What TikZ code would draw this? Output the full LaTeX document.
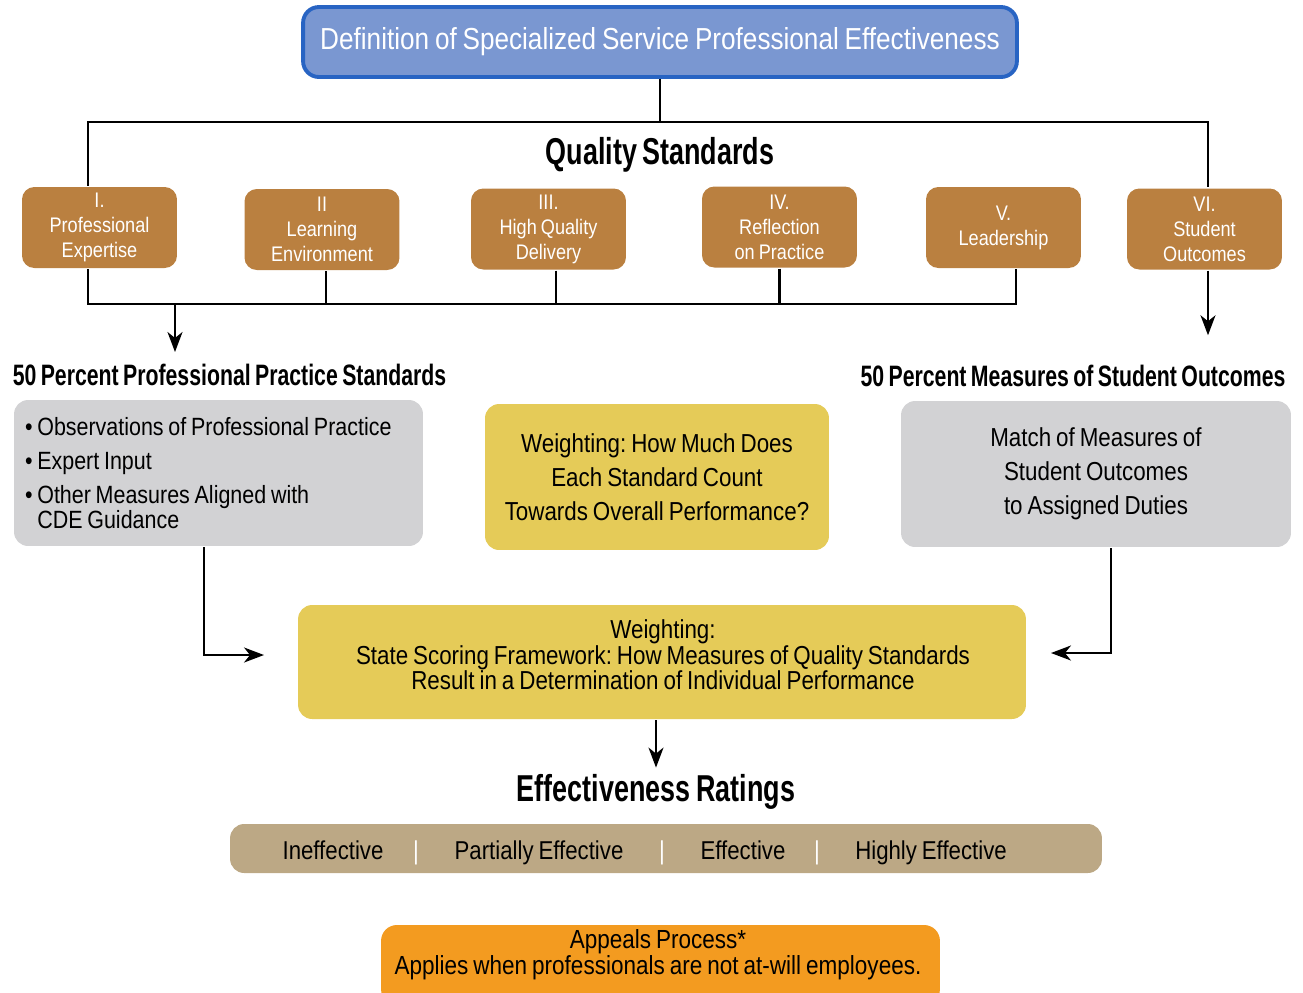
\documentclass[tikz,border=0pt]{standalone}
\usepackage{fontspec}
\setmainfont[FakeStretch=0.86,WordSpace=0.8]{Liberation Sans}
\newfontfamily\headfont[FakeStretch=0.72,WordSpace=0.75]{Liberation Sans}
\usetikzlibrary{arrows.meta}

\definecolor{titlefill}{RGB}{122,151,209}
\definecolor{titleline}{RGB}{40,100,195}
\definecolor{stdorange}{RGB}{186,128,64}
\definecolor{boxgray}{RGB}{210,210,212}
\definecolor{boxyellow}{RGB}{229,203,88}
\definecolor{bartan}{RGB}{188,168,133}
\definecolor{appealorange}{RGB}{243,155,32}

\begin{document}
\frenchspacing
\begin{tikzpicture}[x=0.02cm,y=-0.02cm,line width=1.2pt,
    arr/.style={-{Stealth[length=0.4cm,width=0.3cm,inset=0.12cm]},line width=1.2pt},
    stdbox/.style={fill=stdorange,rounded corners=7pt,text=white,align=flush center,minimum width=3.1cm,minimum height=1.62cm,font=\fontsize{12}{14.2}\selectfont},
    head/.style={font=\headfont\bfseries\fontsize{16.8}{18}\selectfont},
    info/.style={rounded corners=8pt,minimum height=2.92cm,font=\fontsize{14.8}{19.3}\selectfont,align=flush center},
    rating/.style={anchor=base,font=\fontsize{14.7}{16}\selectfont}]
    \clip (0,0) rectangle (1303,992);

    \node[fill=titlefill,draw=titleline,line width=2.2pt,rounded corners=9pt,minimum width=14.28cm,minimum height=1.4cm,text=white,font=\fontsize{17.3}{20}\selectfont] (title) at (660,42) {Definition of Specialized Service Professional Effectiveness};
    \node[font=\headfont\bfseries\fontsize{21.3}{24}\selectfont] (quality) at (660,155) {Quality Standards};

    \node[stdbox] (q1) at (99.5,227.5) {I.\\Professional\\Expertise};
    \node[stdbox] (q2) at (322,229.5) {II\\Learning\\Environment};
    \node[stdbox] (q3) at (548.5,229) {III.\\High Quality\\Delivery};
    \node[stdbox] (q4) at (779.5,227) {IV.\\Reflection\\on Practice};
    \node[stdbox] (q5) at (1003.5,227.5) {V.\\Leadership};
    \node[stdbox] (q6) at (1204.5,229) {VI.\\Student\\Outcomes};

    \node[head] (ppshead) at (229.5,375) {50 Percent Professional Practice Standards};
    \node[head] (soshead) at (1073,376) {50 Percent Measures of Student Outcomes};

    \node[info,fill=boxgray,minimum width=8.18cm,text width=7.74cm,inner xsep=0.22cm,align=flush left,font=\fontsize{14.2}{19.3}\selectfont] (ppsbox) at (218.5,473)
        {\textbullet\ Observations of Professional Practice\\\textbullet\ Expert Input\\\textbullet\ Other Measures Aligned with\\[-5pt]\hphantom{\textbullet\ }CDE Guidance};
    \node[info,fill=boxyellow,minimum width=6.88cm] (weightbox) at (657,477) {Weighting: How Much Does\\Each Standard Count\\Towards Overall Performance?};
    \node[info,fill=boxgray,minimum width=7.8cm] (sosbox) at (1096,474) {Match of Measures of\\Student Outcomes\\to Assigned Duties};

    \node[fill=boxyellow,rounded corners=8pt,minimum width=14.56cm,minimum height=2.28cm] (scoring) at (662,662) {};
    \node[align=flush center,font=\fontsize{14.8}{14.6}\selectfont] (scoringtext) at (663,655)
        {Weighting:\\State Scoring Framework: How Measures of Quality Standards\\Result in a Determination of Individual Performance};

    \node[font=\headfont\bfseries\fontsize{21.3}{24}\selectfont] (ratinghead) at (656,792) {Effectiveness Ratings};
    \node[fill=bartan,rounded corners=8pt,minimum width=17.44cm,minimum height=0.98cm] (ratingbar) at (666,848.5) {};
    \node[rating] (r1) at (333,859) {Ineffective};
    \node[rating,text=white] (sep1) at (416,859) {|};
    \node[rating] (r2) at (539,859) {Partially Effective};
    \node[rating,text=white] (sep2) at (662,859) {|};
    \node[rating] (r3) at (743,859) {Effective};
    \node[rating,text=white] (sep3) at (817,859) {|};
    \node[rating] (r4) at (931,859) {Highly Effective};

    \node[fill=appealorange,rounded corners=9pt,minimum width=11.18cm,minimum height=1.6cm] (appeals) at (660.5,965) {};
    \node[align=flush center,font=\fontsize{14.9}{14.6}\selectfont] (appealtext) at (658,955) {Appeals Process*\\Applies when professionals are not at-will employees.};

    % tree lines
    \draw (title.south) -- ++(0,43) coordinate (split);
    \draw ([xshift=-0.23cm]q1.north) |- (split) -| ([xshift=0.07cm]q6.north);
    \coordinate (lowbus) at (540,304);
    \draw ([xshift=-0.23cm]q1.south) |- (lowbus) -| ([xshift=0.25cm]q5.south);
    \draw ([xshift=0.08cm]q2.south) -- ++(0,34);
    \draw ([xshift=0.15cm]q3.south) -- ++(0,34);
    \draw (q4.south) -- (q4.south |- lowbus);
    \draw[arr] (lowbus -| 175,0) -- (175,352);
    \draw[arr,shorten >=0.46cm] ([xshift=0.07cm]q6.south) -- ([xshift=0.07cm]q6.south |- soshead.north);

    % into the scoring framework
    \draw[arr,shorten >=0.66cm] ([xshift=-0.29cm]ppsbox.south) |- ([yshift=0.14cm]scoring.west);
    \draw[arr,shorten >=0.48cm] ([xshift=0.3cm]sosbox.south) |- ([yshift=0.18cm]scoring.east);
    \draw[arr] (scoring.south -| ratinghead.north) -- (ratinghead.north);
\end{tikzpicture}
\end{document}
